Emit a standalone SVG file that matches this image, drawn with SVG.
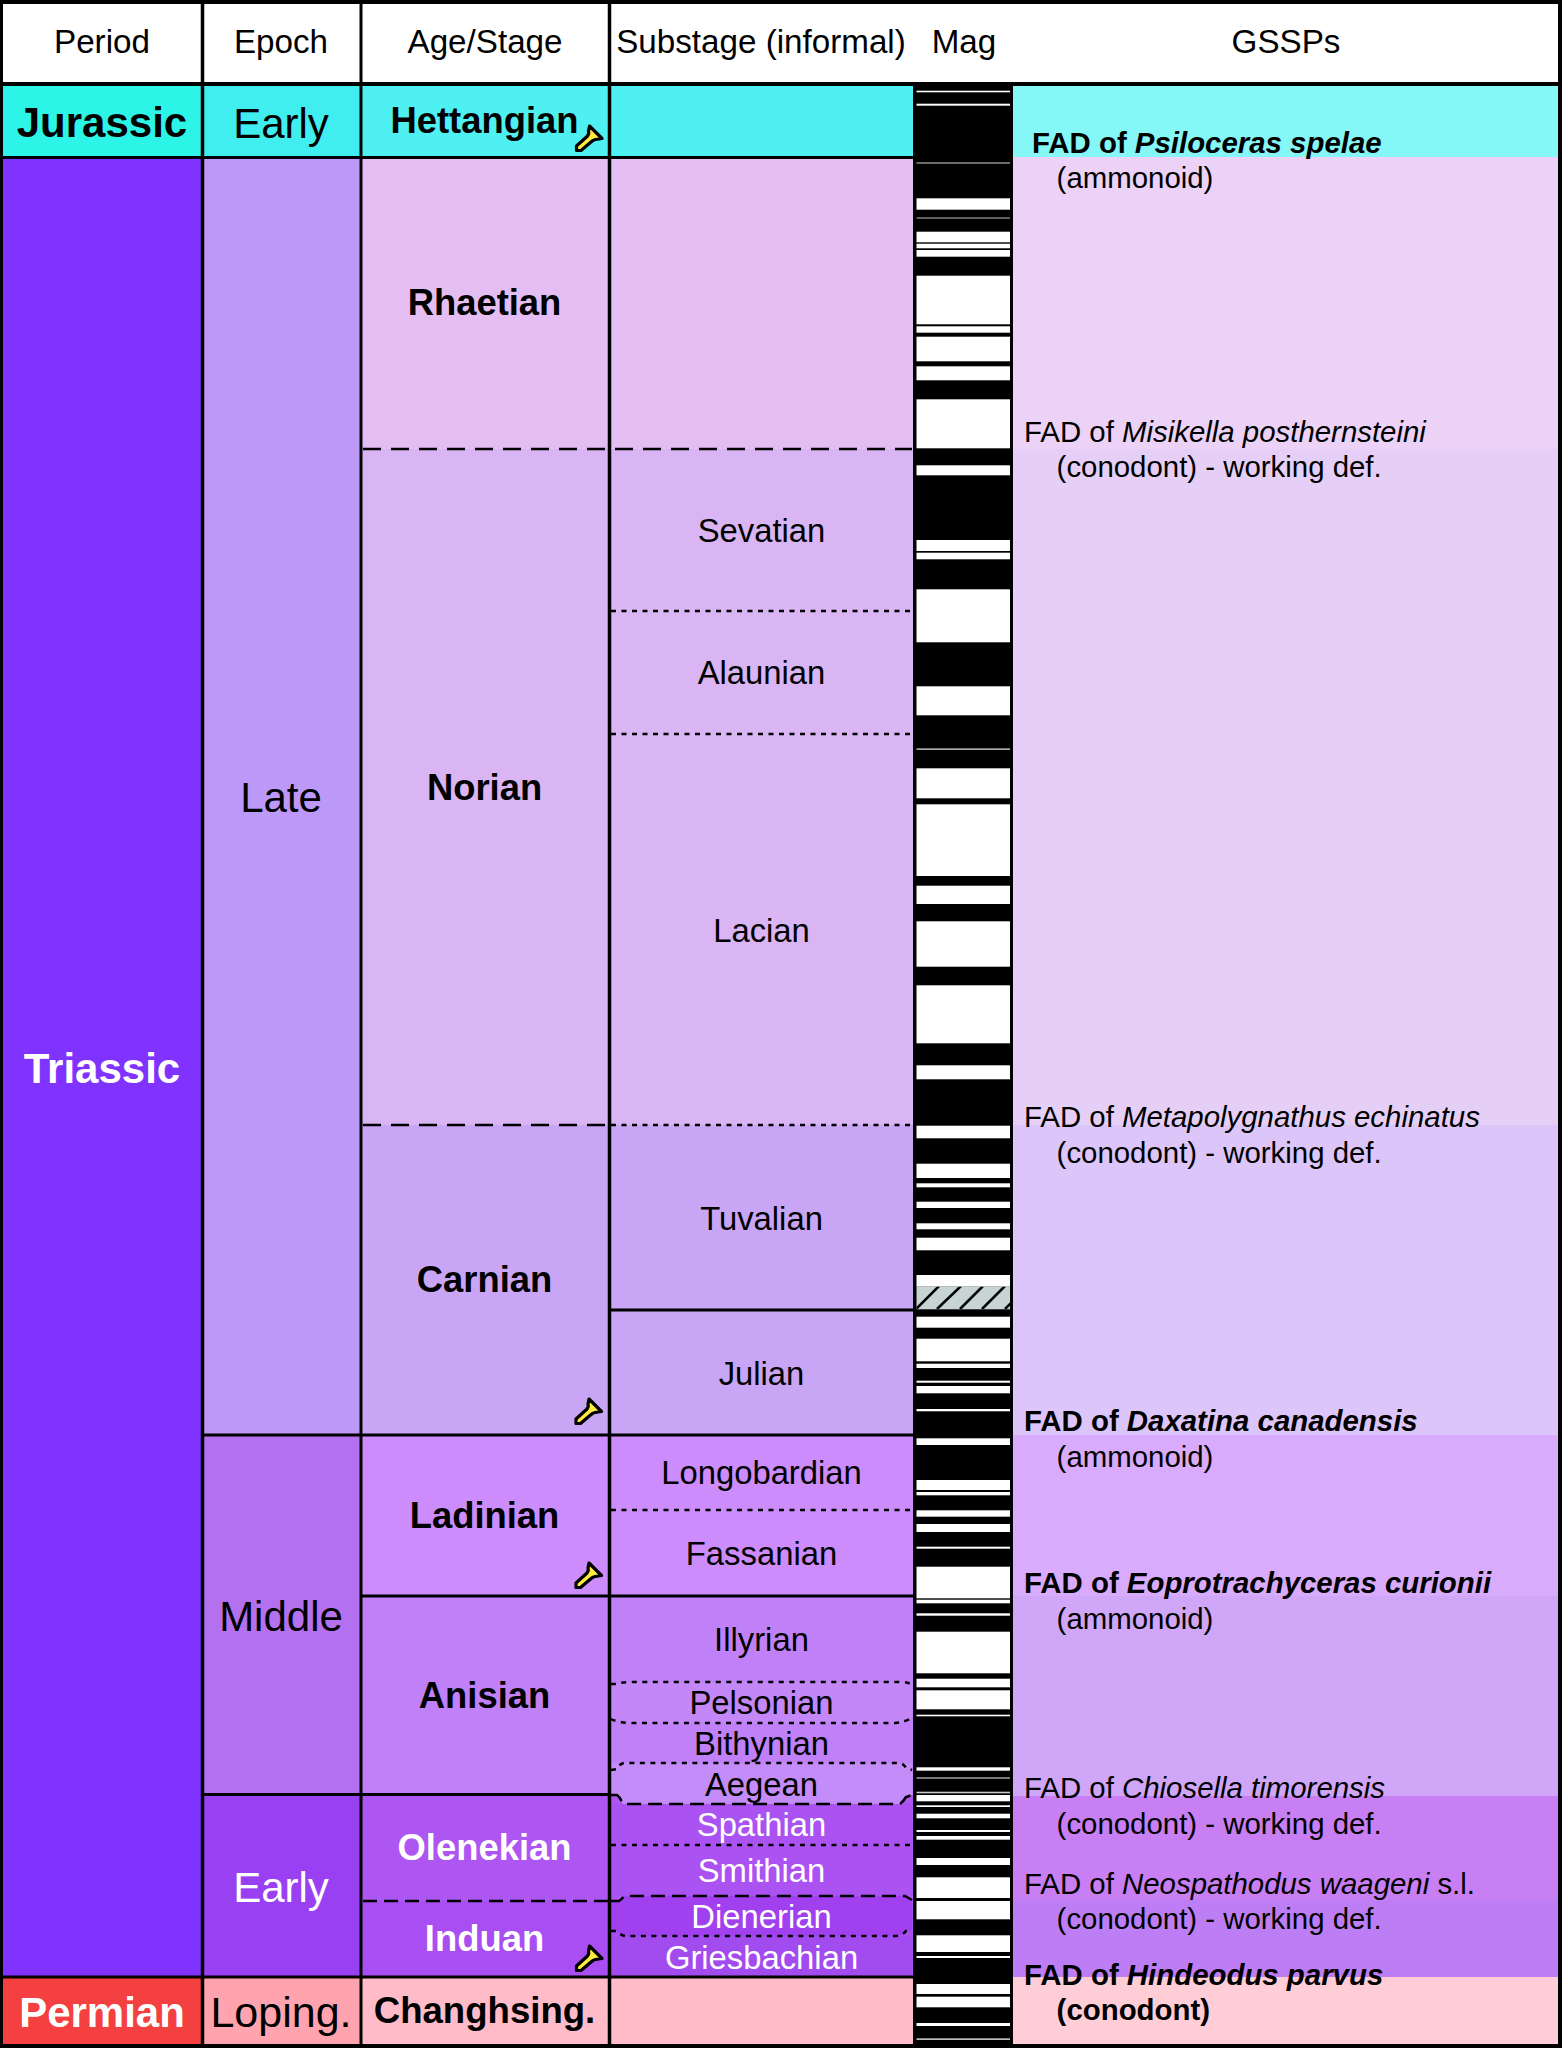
<svg xmlns="http://www.w3.org/2000/svg" width="1562" height="2048" viewBox="0 0 1562 2048">
<style>
text{font-family:"Liberation Sans",Arial,sans-serif;fill:#000}
.h{font-size:33.200px;text-anchor:middle}
.p{font-size:42px;font-weight:700;text-anchor:middle}
.e{font-size:42px;text-anchor:middle}
.a{font-size:36.400px;font-weight:700;text-anchor:middle}
.s{font-size:32.800px;text-anchor:middle}
.g{font-size:29.400px}
.b{font-weight:700}
.i{font-style:italic}
.w{fill:#fff}
.solid{fill:none;stroke:#000;stroke-width:3}
.dash{fill:none;stroke:#000;stroke-width:2.500;stroke-dasharray:18 10}
.dash2{fill:none;stroke:#000;stroke-width:2.500;stroke-dasharray:14 7}
.dot{fill:none;stroke:#000;stroke-width:2.500;stroke-dasharray:5 5.500}
.grid{stroke:#000;fill:none}
.mw{fill:#fff}
.hatch{stroke:#000;stroke-width:2.500}
.ham{fill:#ffec3d;stroke:#000;stroke-width:3.200;stroke-linejoin:round}
</style>
<defs>
<path id="hammer" class="ham" d="M14.500,1 L27,13.500 L20.500,14.500 Q18,15 16,17 L6,25.500 L1.500,25.500 L1.500,21 L12,11.500 Q14.500,9 13.500,6 Z"/>
<clipPath id="hatchclip"><rect x="916.500" y="1286.700" width="93.500" height="22.600"/></clipPath>
</defs>
<rect width="1562" height="2048" fill="#000"/>

<g id="header">
<rect x="3" y="4" width="1555" height="78" fill="#fff"/>
<text class="h" x="102" y="53">Period</text>
<text class="h" x="281" y="53">Epoch</text>
<text class="h" x="485" y="53">Age/Stage</text>
<text class="h" x="761" y="53">Substage (informal)</text>
<text class="h" x="964" y="53">Mag</text>
<text class="h" x="1286" y="53">GSSPs</text>
</g>

<g id="gssp-bands">
<rect x="1013" y="86" width="545" height="71" fill="#85f7f7"/>
<rect x="1013" y="157" width="545" height="292" fill="#ecd2f6"/>
<rect x="1013" y="449" width="545" height="676" fill="#e5cff6"/>
<rect x="1013" y="1125" width="545" height="310" fill="#dcc5f9"/>
<rect x="1013" y="1435" width="545" height="161" fill="#d9abfc"/>
<rect x="1013" y="1596" width="545" height="200" fill="#d0a6f8"/>
<rect x="1013" y="1796" width="545" height="104" fill="#c77ff3"/>
<rect x="1013" y="1900" width="545" height="77" fill="#bd7ef5"/>
<rect x="1013" y="1977" width="545" height="67" fill="#ffcdd6"/>
</g>

<g id="period-jurassic"><rect x="3" y="86" width="199" height="71" fill="#2cf4e6"/><text class="p" x="102" y="137">Jurassic</text></g>
<g id="period-triassic"><rect x="3" y="157" width="199" height="1820" fill="#8033ff"/><text class="p w" x="102" y="1083">Triassic</text></g>
<g id="period-permian"><rect x="3" y="1977" width="199" height="67" fill="#f44040"/><text class="p w" x="102" y="2027">Permian</text></g>

<g id="epoch-jurassic-early"><rect x="202" y="86" width="159" height="71" fill="#40edef"/><text class="e" x="281" y="138">Early</text></g>
<g id="epoch-late"><rect x="202" y="157" width="159" height="1278" fill="#bc99f8"/><text class="e" x="281" y="812">Late</text></g>
<g id="epoch-middle"><rect x="202" y="1435" width="159" height="359" fill="#b370ef"/><text class="e" x="281" y="1631">Middle</text></g>
<g id="epoch-early"><rect x="202" y="1794" width="159" height="183" fill="#9a40f3"/><text class="e w" x="281" y="1902">Early</text></g>
<g id="epoch-loping"><rect x="202" y="1977" width="159" height="67" fill="#ffa4ae"/><text class="e" x="281" y="2027" style="font-size:43px">Loping.</text></g>

<g id="stage-hettangian"><rect x="361" y="86" width="552" height="71" fill="#4ef0f2"/><text class="a" x="484.500" y="133">Hettangian</text><use href="#hammer" x="575" y="125"/></g>
<g id="stage-rhaetian"><rect x="361" y="157" width="552" height="292" fill="#e4bef2"/><text class="a" x="484.500" y="315">Rhaetian</text></g>
<g id="stage-norian"><rect x="361" y="449" width="552" height="676" fill="#d9b5f3"/><text class="a" x="484.500" y="800">Norian</text></g>
<g id="stage-carnian"><rect x="361" y="1125" width="552" height="310" fill="#c9a6f5"/><text class="a" x="484.500" y="1292">Carnian</text><use href="#hammer" x="574.500" y="1398"/></g>
<g id="stage-ladinian"><rect x="361" y="1435" width="552" height="161" fill="#cc8cfc"/><text class="a" x="484.500" y="1528">Ladinian</text><use href="#hammer" x="574.500" y="1562"/></g>
<g id="stage-anisian"><rect x="361" y="1596" width="552" height="199" fill="#bf80f8"/><text class="a" x="484.500" y="1708">Anisian</text></g>
<g id="stage-olenekian"><rect x="361" y="1795" width="552" height="106" fill="#ad56f2"/><text class="a w" x="484.500" y="1860">Olenekian</text></g>
<g id="stage-induan"><rect x="361" y="1901" width="552" height="76" fill="#a84ef2"/><text class="a w" x="484.500" y="1951">Induan</text><use href="#hammer" x="575" y="1945"/></g>
<g id="stage-changhsingian"><rect x="361" y="1977" width="552" height="67" fill="#ffbbc8"/><text class="a" x="484.500" y="2023" style="font-size:36.600px">Changhsing.</text></g>

<g id="substage-shapes">
<path d="M611,1763 H912 V1795 L906,1797 Q903,1802 900,1804 H623 Q620,1797 617,1795 L611,1795 Z" fill="#c48cf8"/>
<path d="M611,1684 L617,1684 Q622,1682 630,1682 H900 Q908,1682 912,1685 V1718 Q905,1722 895,1723 H628 Q617,1722 611,1719 Z" fill="#c487f8"/>
<path d="M611,1901 L619,1901 Q622,1899 624,1896 H905 L912,1900 V1931 H906 Q903,1935 897,1936 H625 Q620,1935 617,1931 H611 Z" fill="#a040ee"/>
<rect x="611" y="1936" width="301" height="41" fill="#a24cef"/>
<rect x="611" y="1804" width="301" height="92" fill="#aa52f2"/>
</g>
<g id="substage-sevatian"><text class="s" x="761.500" y="542">Sevatian</text></g>
<g id="substage-alaunian"><text class="s" x="761.500" y="684">Alaunian</text></g>
<g id="substage-lacian"><text class="s" x="761.500" y="942">Lacian</text></g>
<g id="substage-tuvalian"><text class="s" x="761.500" y="1230">Tuvalian</text></g>
<g id="substage-julian"><text class="s" x="761.500" y="1385">Julian</text></g>
<g id="substage-longobardian"><text class="s" x="761.500" y="1484">Longobardian</text></g>
<g id="substage-fassanian"><text class="s" x="761.500" y="1565">Fassanian</text></g>
<g id="substage-illyrian"><text class="s" x="761.500" y="1651">Illyrian</text></g>
<g id="substage-pelsonian"><text class="s" x="761.500" y="1714">Pelsonian</text></g>
<g id="substage-bithynian"><text class="s" x="761.500" y="1755">Bithynian</text></g>
<g id="substage-aegean"><text class="s" x="761.500" y="1796">Aegean</text></g>
<g id="substage-spathian"><text class="s w" x="761.500" y="1836">Spathian</text></g>
<g id="substage-smithian"><text class="s w" x="761.500" y="1882">Smithian</text></g>
<g id="substage-dienerian"><text class="s w" x="761.500" y="1928">Dienerian</text></g>
<g id="substage-griesbachian"><text class="s w" x="761.500" y="1969">Griesbachian</text></g>

<g id="mag">
<rect x="913" y="86" width="100" height="1958" fill="#000"/>
<g class="mw">
<rect x="916.500" y="90.700" width="93.500" height="1.600"/><rect x="916.500" y="103.700" width="93.500" height="2"/>
<rect x="916.500" y="162.300" width="93.500" height="1.400" fill="#999"/><rect x="916.500" y="198.300" width="93.500" height="11.400"/>
<rect x="916.500" y="217.300" width="93.500" height="1.400" fill="#888"/><rect x="916.500" y="231.700" width="93.500" height="10.600"/>
<rect x="916.500" y="243.700" width="93.500" height="4.600"/><rect x="916.500" y="250" width="93.500" height="6.700"/>
<rect x="916.500" y="275.700" width="93.500" height="48.600"/><rect x="916.500" y="326.300" width="93.500" height="6.400"/>
<rect x="916.500" y="336.700" width="93.500" height="24.600"/><rect x="916.500" y="366.300" width="93.500" height="14"/>
<rect x="916.500" y="399.300" width="93.500" height="49"/><rect x="916.500" y="465.300" width="93.500" height="10"/>
<rect x="916.500" y="540" width="93.500" height="11"/><rect x="916.500" y="552.700" width="93.500" height="6.600"/>
<rect x="916.500" y="589.300" width="93.500" height="53"/><rect x="916.500" y="686.300" width="93.500" height="29"/>
<rect x="916.500" y="748.300" width="93.500" height="1.700" fill="#aaa"/><rect x="916.500" y="768.300" width="93.500" height="30"/>
<rect x="916.500" y="804.300" width="93.500" height="71.700"/><rect x="916.500" y="885.700" width="93.500" height="18.300"/>
<rect x="916.500" y="921.300" width="93.500" height="45.400"/><rect x="916.500" y="985.300" width="93.500" height="58"/>
<rect x="916.500" y="1065.300" width="93.500" height="14"/><rect x="916.500" y="1125.700" width="93.500" height="12.600"/>
<rect x="916.500" y="1163.700" width="93.500" height="14.300"/><rect x="916.500" y="1183.300" width="93.500" height="4"/>
<rect x="916.500" y="1201.700" width="93.500" height="6.300"/><rect x="916.500" y="1223.300" width="93.500" height="6"/>
<rect x="916.500" y="1237.700" width="93.500" height="12.600"/><rect x="916.500" y="1275" width="93.500" height="11.700"/>
<rect x="916.500" y="1316.700" width="93.500" height="11"/><rect x="916.500" y="1338.700" width="93.500" height="22.600"/>
<rect x="916.500" y="1363.700" width="93.500" height="4.300"/><rect x="916.500" y="1380.700" width="93.500" height="2"/>
<rect x="916.500" y="1386" width="93.500" height="7.300"/><rect x="916.500" y="1409" width="93.500" height="2.300"/>
<rect x="916.500" y="1438.300" width="93.500" height="6.700"/><rect x="916.500" y="1480" width="93.500" height="10"/>
<rect x="916.500" y="1492" width="93.500" height="3.300"/><rect x="916.500" y="1510.300" width="93.500" height="6.400"/>
<rect x="916.500" y="1524" width="93.500" height="8"/><rect x="916.500" y="1546.700" width="93.500" height="2"/>
<rect x="916.500" y="1566.700" width="93.500" height="31.600"/><rect x="916.500" y="1599.700" width="93.500" height="3.600"/>
<rect x="916.500" y="1613.300" width="93.500" height="2.400"/><rect x="916.500" y="1631.700" width="93.500" height="41.600"/>
<rect x="916.500" y="1678.700" width="93.500" height="8.600"/><rect x="916.500" y="1690.300" width="93.500" height="19"/>
<rect x="916.500" y="1714.700" width="93.500" height="1.600"/><rect x="916.500" y="1767.300" width="93.500" height="3.400"/>
<rect x="916.500" y="1777.300" width="93.500" height="1.400" fill="#aaa"/><rect x="916.500" y="1791.700" width="93.500" height="1.600" fill="#ccc"/>
<rect x="916.500" y="1795" width="93.500" height="6.300"/><rect x="916.500" y="1805.300" width="93.500" height="1.700"/>
<rect x="916.500" y="1813.700" width="93.500" height="4.600"/><rect x="916.500" y="1830" width="93.500" height="2"/>
<rect x="916.500" y="1836" width="93.500" height="3.700"/><rect x="916.500" y="1858" width="93.500" height="7"/>
<rect x="916.500" y="1877.300" width="93.500" height="20.700"/><rect x="916.500" y="1901" width="93.500" height="18.300"/>
<rect x="916.500" y="1935.300" width="93.500" height="16.700"/><rect x="916.500" y="1956" width="93.500" height="2"/>
<rect x="916.500" y="1984" width="93.500" height="10"/><rect x="916.500" y="1996.700" width="93.500" height="10.600"/>
<rect x="916.500" y="2023" width="93.500" height="3"/><rect x="916.500" y="2038.300" width="93.500" height="1.700" fill="#bbb"/>
</g>
<rect x="916.500" y="1286.700" width="93.500" height="22.600" fill="#c8d3d3"/>
<g clip-path="url(#hatchclip)" class="hatch">
<line x1="916" y1="1309" x2="939" y2="1286"/><line x1="937" y1="1309" x2="961" y2="1286"/><line x1="960" y1="1309" x2="983" y2="1286"/><line x1="982" y1="1309" x2="1005" y2="1286"/><line x1="1005" y1="1309" x2="1028" y2="1286"/>
</g>
</g>

<g id="connectors">
<g class="grid">
<line x1="202.500" y1="0" x2="202.500" y2="2048" stroke-width="3.500"/>
<line x1="361" y1="0" x2="361" y2="2048" stroke-width="3"/>
<line x1="609.500" y1="0" x2="609.500" y2="2048" stroke-width="3.500"/>
<line x1="0" y1="84" x2="1562" y2="84" stroke-width="4"/>
</g>
<line class="solid" x1="0" y1="157.500" x2="913" y2="157.500" stroke-width="2.500"/>
<line class="solid" x1="202" y1="1435" x2="913" y2="1435"/>
<line class="solid" x1="361" y1="1596" x2="913" y2="1596"/>
<line class="solid" x1="202" y1="1794.500" x2="609" y2="1794.500"/>
<line class="solid" x1="0" y1="1977" x2="913" y2="1977"/>
<line class="solid" x1="611" y1="1310" x2="913" y2="1310"/>
<line class="dash" x1="363" y1="449" x2="912" y2="449"/>
<line class="dash" x1="363" y1="1125" x2="608" y2="1125"/>
<line class="dash2" x1="363" y1="1901" x2="608" y2="1901"/>
<line class="dot" x1="611" y1="1125" x2="912" y2="1125"/>
<line class="dot" x1="611" y1="611" x2="912" y2="611"/>
<line class="dot" x1="611" y1="734" x2="912" y2="734"/>
<line class="dot" x1="611" y1="1510" x2="912" y2="1510"/>
<line class="dot" x1="611" y1="1845" x2="912" y2="1845"/>
<path class="dot" d="M611,1684 L617,1684 Q622,1682 630,1682 H900 Q908,1682 912,1685"/>
<path class="dot" d="M611,1719 Q617,1722 628,1723 H895 Q905,1722 912,1718"/>
<path class="dot" d="M611,1770 L617,1769 Q619,1764 624,1763 H900 Q904,1764 906,1768 L912,1770"/>
<path class="dash2" d="M611,1795 L617,1795 Q620,1797 623,1804 H900 Q903,1802 906,1797 L912,1795"/>
<path class="dash2" d="M611,1901 L619,1901 Q622,1899 624,1896 H905 L912,1900"/>
<path class="dot" d="M611,1931 L617,1931 Q620,1935 625,1936 H897 Q903,1935 906,1931 L912,1931"/>
</g>

<g id="gssp-labels">
<g id="gssp-psiloceras"><text class="g b" x="1032" y="153">FAD of <tspan class="i">Psiloceras spelae</tspan></text><text class="g" x="1056.600" y="188">(ammonoid)</text></g>
<g id="gssp-misikella"><text class="g" x="1024" y="442">FAD of <tspan class="i">Misikella posthernsteini</tspan></text><text class="g" x="1056.600" y="477">(conodont) - working def.</text></g>
<g id="gssp-metapolygnathus"><text class="g" x="1024" y="1127">FAD of <tspan class="i">Metapolygnathus echinatus</tspan></text><text class="g" x="1056.600" y="1163">(conodont) - working def.</text></g>
<g id="gssp-daxatina"><text class="g b" x="1024" y="1431">FAD of <tspan class="i">Daxatina canadensis</tspan></text><text class="g" x="1056.600" y="1467">(ammonoid)</text></g>
<g id="gssp-eoprotrachyceras"><text class="g b" x="1024" y="1593">FAD of <tspan class="i">Eoprotrachyceras curionii</tspan></text><text class="g" x="1056.600" y="1629">(ammonoid)</text></g>
<g id="gssp-chiosella"><text class="g" x="1024" y="1798">FAD of <tspan class="i">Chiosella timorensis</tspan></text><text class="g" x="1056.600" y="1834">(conodont) - working def.</text></g>
<g id="gssp-neospathodus"><text class="g" x="1024" y="1894">FAD of <tspan class="i">Neospathodus waageni</tspan> s.l.</text><text class="g" x="1056.600" y="1929">(conodont) - working def.</text></g>
<g id="gssp-hindeodus"><text class="g b" x="1024" y="1985">FAD of <tspan class="i">Hindeodus parvus</tspan></text><text class="g b" x="1056.600" y="2020">(conodont)</text></g>
</g>
</svg>
